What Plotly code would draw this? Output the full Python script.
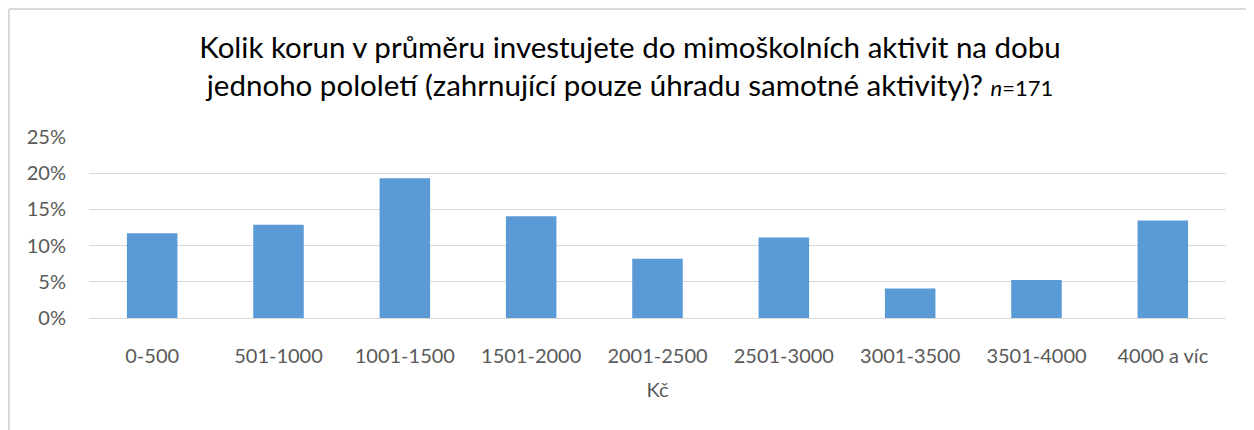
import plotly.graph_objects as go

categories = ["0-500", "501-1000", "1001-1500", "1501-2000", "2001-2500",
              "2501-3000", "3001-3500", "3501-4000", "4000 a víc"]
values = [0.1170, 0.1287, 0.1930, 0.1404, 0.0819, 0.1111, 0.0409, 0.0526, 0.1345]
y_ticks = [0, 0.05, 0.10, 0.15, 0.20, 0.25]
y_tick_labels = ["0%", "5%", "10%", "15%", "20%", "25%"]

FONT = "Lato"
W, H = 1254, 430
OFF = 8  # page body offset
L, R, T, B = 89 - OFF, 28 + OFF, 137 - OFF, 112 + OFF
pw, ph = W - L - R, H - T - B

def px(x):
    return (x - L) / pw

def py(y):
    return (H - B - y) / ph

fig = go.Figure(go.Bar(x=categories, y=values, marker_color="#5b9bd5",
                       marker_line_width=0))

fig.update_layout(
    width=W, height=H,
    margin=dict(l=L, r=R, t=T, b=B),
    paper_bgcolor="white", plot_bgcolor="white",
    bargap=0.6,
    showlegend=False,
    title=dict(
        text="Kolik korun v průměru investujete do mimoškolních aktivit na dobu<br>"
             "jednoho pololetí (zahrnující pouze úhradu samotné aktivity)? <i><span style='font-size:22px'>n</span></i><span style='font-size:22px'>=171</span>",
        x=622 / W, xanchor="center", y=1 - 50 / H, yanchor="top",
        font=dict(family=FONT, size=29.5, color="#000000"),
    ),
    xaxis=dict(
        showgrid=False, showline=True, linecolor="#d9d9d9", linewidth=1,
        tickfont=dict(family=FONT, size=20, color="#595959"),
        ticks="", ticklabelstandoff=20,
        title=dict(text="Kč", font=dict(family=FONT, size=20, color="#595959"), standoff=16),
    ),
    yaxis=dict(
        range=[0, 0.25], tickvals=y_ticks, ticktext=y_tick_labels,
        showgrid=True, gridcolor="#d9d9d9", gridwidth=1, zeroline=False,
        tickfont=dict(family=FONT, size=20, color="#595959"),
        ticks="", ticklabelstandoff=22,
    ),
    shapes=[
        dict(type="line", xref="paper", yref="paper",
             x0=px(1), x1=px(1), y0=py(1), y1=py(H + 5),
             line=dict(color="#d9d9d9", width=2)),
        dict(type="line", xref="paper", yref="paper",
             x0=px(1), x1=px(W + 5), y0=py(1), y1=py(1),
             line=dict(color="#d9d9d9", width=2)),
    ],
)

fig.write_html("out.html")
